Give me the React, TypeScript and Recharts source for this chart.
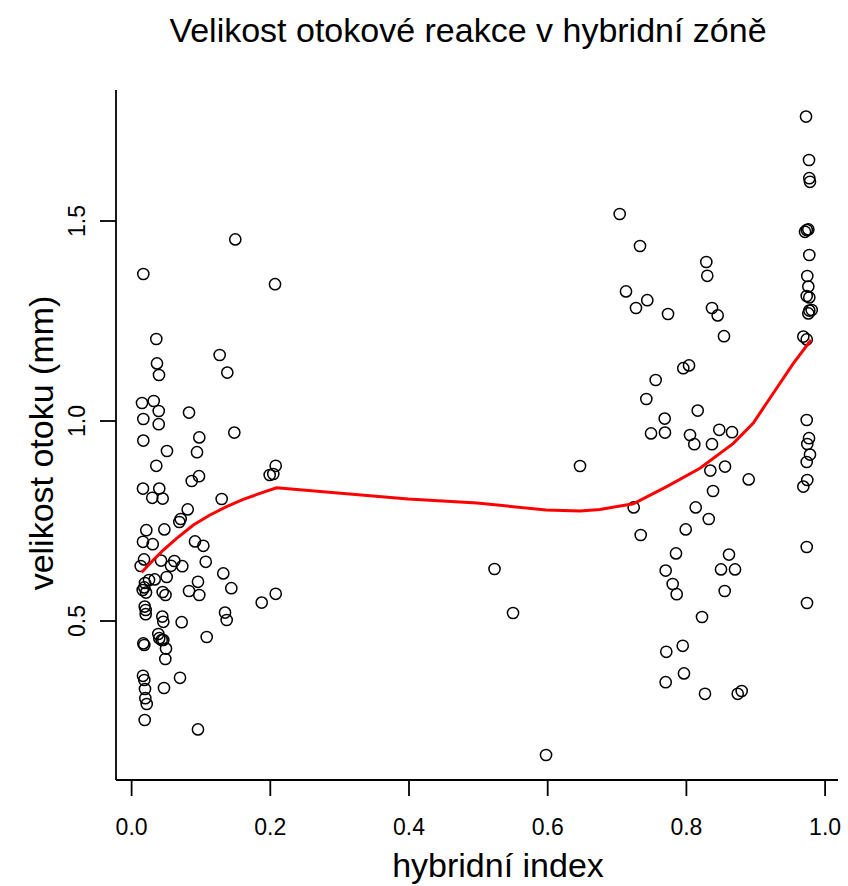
import React from 'react';
import { ScatterChart, Scatter, XAxis, YAxis } from 'recharts';

// hybrid index (x) and swelling size in mm (y)
const leftX = [
  0.1495, 0.0169, 0.2068, 0.0356, 0.127, 0.0366, 0.138, 0.0395, 0.015, 0.0319,
  0.0391, 0.0828, 0.0169, 0.0391, 0.1481, 0.0976, 0.0169, 0.051, 0.0943, 0.0356,
  0.2078, 0.1991, 0.2043, 0.0972, 0.0867, 0.0164, 0.0399, 0.0298, 0.0448, 0.1299,
  0.0809, 0.0708, 0.0688, 0.0212, 0.0472, 0.0164, 0.0304, 0.0914, 0.1034, 0.0179,
  0.0424, 0.0616, 0.0131, 0.0568, 0.0731, 0.1069, 0.0506, 0.1322, 0.0193, 0.0251,
  0.0333, 0.016, 0.0183, 0.0208, 0.0957, 0.1438, 0.0448, 0.0489, 0.0828, 0.0976,
  0.1876, 0.2078, 0.0189, 0.0203, 0.0203, 0.0443, 0.0457, 0.0722, 0.1347, 0.1371,
  0.0385, 0.0399, 0.0434, 0.0457, 0.0169, 0.0183, 0.0496, 0.1083, 0.0486, 0.0164,
  0.0183, 0.0193, 0.0198, 0.0218, 0.0698, 0.0467, 0.0189, 0.0957,
];
const leftY = [
  1.454, 1.3675, 1.342, 1.205, 1.165, 1.144, 1.121, 1.115, 1.045, 1.05,
  1.025, 1.021, 1.005, 0.992, 0.971, 0.959, 0.951, 0.925, 0.922, 0.888,
  0.888, 0.865, 0.8675, 0.862, 0.85, 0.831, 0.831, 0.808, 0.806, 0.805,
  0.779, 0.755, 0.7475, 0.727, 0.729, 0.698, 0.692, 0.699, 0.688, 0.654,
  0.651, 0.65, 0.6375, 0.638, 0.637, 0.648, 0.61, 0.619, 0.595, 0.6025,
  0.604, 0.5775, 0.584, 0.571, 0.598, 0.582, 0.5725, 0.565, 0.575, 0.565,
  0.546, 0.568, 0.536, 0.5275, 0.517, 0.511, 0.498, 0.497, 0.521, 0.5025,
  0.4675, 0.457, 0.4525, 0.4525, 0.444, 0.44, 0.431, 0.46, 0.405, 0.363,
  0.3525, 0.33, 0.307, 0.2925, 0.358, 0.3325, 0.2525, 0.229,
];

const midX = [0.5233, 0.55, 0.5976, 0.6466];
const midY = [0.63, 0.52, 0.165, 0.8875];

const rightX = [
  0.7038, 0.7331, 0.8287, 0.8301, 0.7129, 0.7436, 0.7273, 0.7735, 0.8369, 0.8451,
  0.8542, 0.8038, 0.7955, 0.7557, 0.7422, 0.8163, 0.7687, 0.749, 0.7691, 0.8052,
  0.8474, 0.8658, 0.8114, 0.8369, 0.8345, 0.8557, 0.8898, 0.8384, 0.724, 0.8134,
  0.8322, 0.7341, 0.799, 0.785, 0.8614, 0.7701, 0.8499, 0.8701, 0.7802, 0.786,
  0.8552, 0.8225, 0.7947, 0.771, 0.7965, 0.7701, 0.8268, 0.874, 0.8797,
];
const rightY = [
  1.5175, 1.4375, 1.3975, 1.363, 1.324, 1.302, 1.2825, 1.2675, 1.2825, 1.264,
  1.212, 1.139, 1.132, 1.1025, 1.055, 1.026, 1.006, 0.969, 0.971, 0.965,
  0.978, 0.972, 0.942, 0.942, 0.876, 0.886, 0.854, 0.825, 0.784, 0.784,
  0.755, 0.715, 0.729, 0.669, 0.666, 0.626, 0.629, 0.629, 0.5925, 0.567,
  0.575, 0.51, 0.438, 0.423, 0.369, 0.347, 0.318, 0.318, 0.325,
];

const edgeX = [
  0.9725, 0.9768, 0.9772, 0.9782, 0.971, 0.9735, 0.9758, 0.9772, 0.9743, 0.9758,
  0.9735, 0.9772, 0.9772, 0.9807, 0.9758, 0.9686, 0.9735, 0.9735, 0.9768, 0.9743,
  0.9782, 0.9735, 0.9743, 0.9686, 0.9735, 0.9739,
];
const edgeY = [
  1.761, 1.6525, 1.607, 1.598, 1.473, 1.4775, 1.479, 1.415, 1.3625, 1.336,
  1.3125, 1.309, 1.276, 1.2775, 1.269, 1.211, 1.204, 1.0025, 0.957, 0.9425,
  0.916, 0.8975, 0.8525, 0.836, 0.685, 0.545,
];

// loess fit
const fitX = [
  0.0146, 0.0313, 0.0457, 0.065, 0.089, 0.113, 0.137, 0.161, 0.185, 0.209,
  0.3986, 0.498, 0.5976, 0.6466, 0.6754, 0.7234, 0.7716, 0.8196, 0.8677, 0.8965,
  0.9158, 0.9542, 0.9797,
];
const fitY = [
  0.622, 0.6525, 0.6775, 0.7067, 0.74, 0.765, 0.786, 0.804, 0.819, 0.833,
  0.805, 0.795, 0.7775, 0.775, 0.779, 0.793, 0.836, 0.882, 0.944, 0.995,
  1.045, 1.144, 1.2025,
];

const xTicks = [0, 0.2, 0.4, 0.6, 0.8, 1.0];
const yTicks = [0.5, 1.0, 1.5];

const pts = (xs: number[], ys: number[]) => xs.map((x, i) => ({ x, y: ys[i] }));
const observed = [
  ...pts(leftX, leftY),
  ...pts(midX, midY),
  ...pts(rightX, rightY),
  ...pts(edgeX, edgeY),
];
const fit = pts(fitX, fitY);

const FONT = '"Liberation Sans", Arial, sans-serif';

const Ring = (props: any) => (
  <circle cx={props.cx} cy={props.cy} r={5.6} fill="none" stroke="#000" strokeWidth={1.5} />
);

const YTick = (props: any) => {
  const { x, y, payload } = props;
  const tx = x - 13;
  return (
    <text x={tx} y={y} transform={`rotate(-90, ${tx}, ${y})`} textAnchor="middle"
      fontSize={23} fontFamily={FONT} fill="#000">
      {Number(payload.value).toFixed(1)}
    </text>
  );
};

export default function App() {
  return (
    <div style={{ position: 'absolute', left: 0, top: 0, width: 848, height: 886, background: '#fff' }}>
      <ScatterChart width={848} height={886} margin={{ top: 90, right: 10, bottom: 0, left: 0 }}>
        <XAxis
          type="number"
          dataKey="x"
          domain={[-0.0225, 1.0186]}
          allowDataOverflow
          ticks={xTicks}
          tickFormatter={(v: number) => v.toFixed(1)}
          height={106}
          tickSize={16}
          tickMargin={23}
          axisLine={{ stroke: '#000', strokeWidth: 1.8 }}
          tickLine={{ stroke: '#000', strokeWidth: 1.8 }}
          tick={{ fontSize: 23, fill: '#000', fontFamily: FONT }}
        />
        <YAxis
          type="number"
          dataKey="y"
          domain={[0.1025, 1.8275]}
          allowDataOverflow
          ticks={yTicks}
          width={116}
          tickSize={16}
          axisLine={{ stroke: '#000', strokeWidth: 1.8 }}
          tickLine={{ stroke: '#000', strokeWidth: 1.8 }}
          tick={<YTick />}
        />
        <Scatter data={observed} shape={<Ring />} isAnimationActive={false} />
        <Scatter
          data={fit}
          line={{ stroke: '#ff0000', strokeWidth: 3 }}
          lineType="joint"
          shape={() => <g />}
          isAnimationActive={false}
        />
      </ScatterChart>
      <svg width={848} height={886} style={{ position: 'absolute', left: 0, top: 0, pointerEvents: 'none' }}>
        <text x={468} y={42} textAnchor="middle" fontSize={34} fontFamily={FONT} fill="#000">
          Velikost otokové reakce v hybridní zóně
        </text>
        <text x={498} y={877} textAnchor="middle" fontSize={34} fontFamily={FONT} fill="#000">
          hybridní index
        </text>
        <text x={53} y={443} transform="rotate(-90, 53, 443)" textAnchor="middle" fontSize={34}
          fontFamily={FONT} fill="#000">
          velikost otoku (mm)
        </text>
      </svg>
    </div>
  );
}
